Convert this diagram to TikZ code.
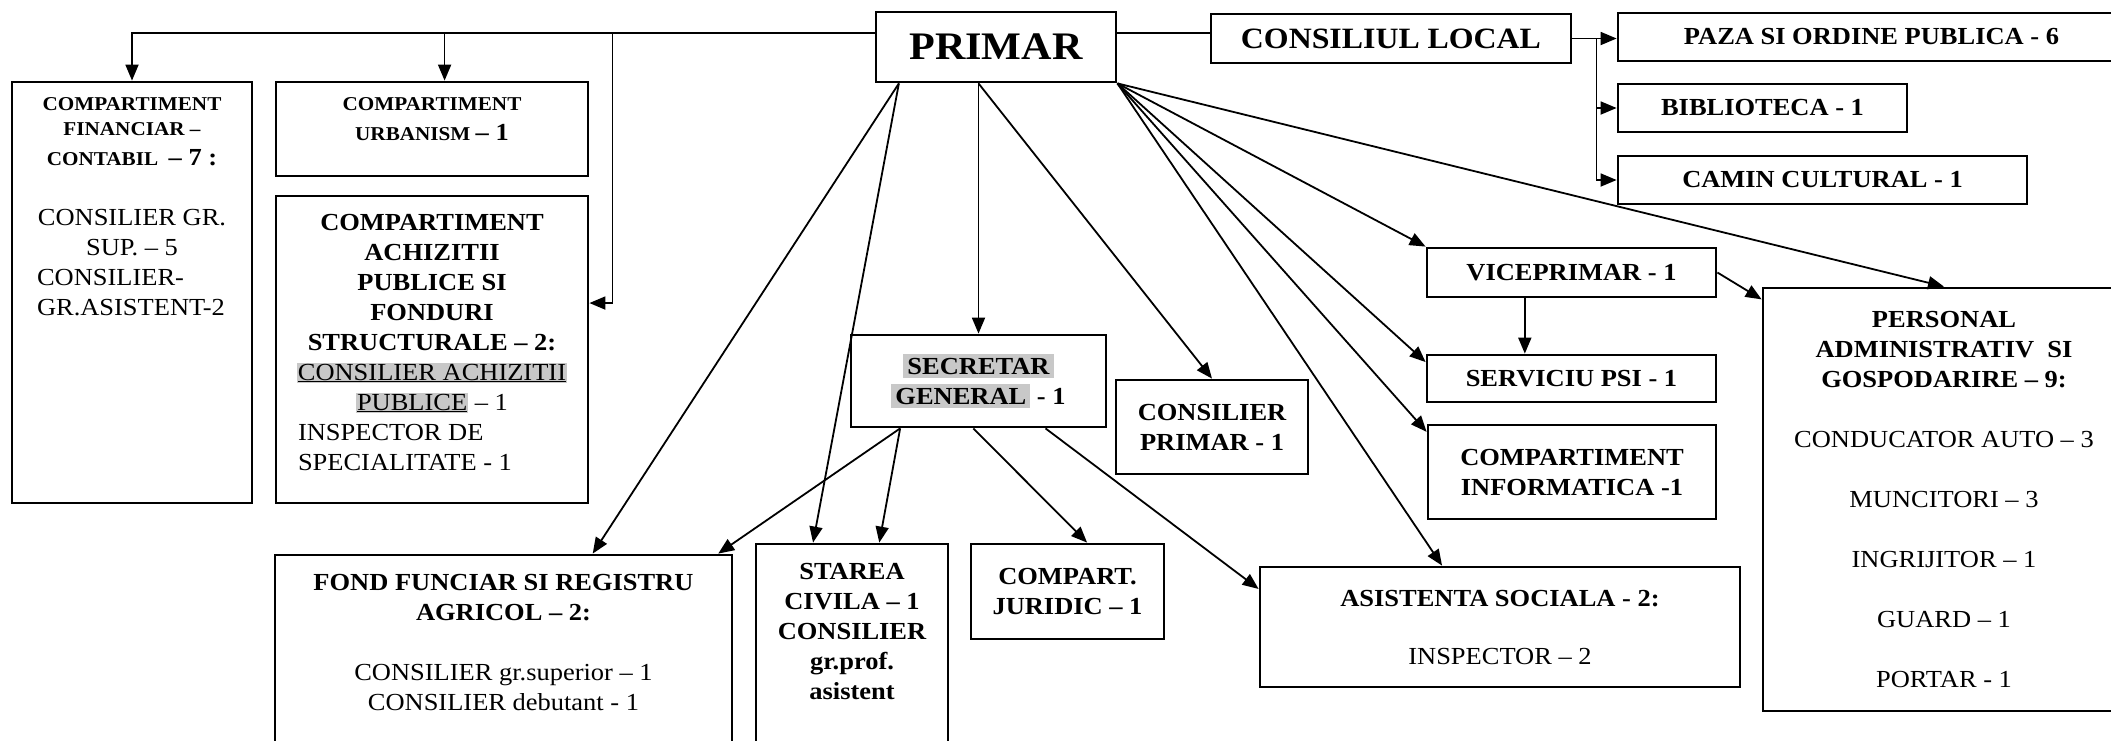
\documentclass[tikz,border=0pt]{standalone}
\usepackage{fontspec}
\setmainfont[FakeStretch=1.08]{Liberation Serif}
\usetikzlibrary{
  arrows.meta,
  positioning,
  calc,
}
\tikzset{
  >={Triangle[length=16pt,width=13pt]},
  box/.style={draw, line width=2.8pt, inner sep=0pt, align=center, font=\bodyfont},
  boxsize/.style 2 args={minimum width=#1pt, minimum height=#2pt},
  txt/.style={inner sep=0pt, align=center, font=\bodyfont},
  link/.style={line width=1.8pt},
}
\definecolor{hl_gray}{RGB}{200,200,200}
\newcommand{\bodyfont}{\fontsize{24.5}{30}\selectfont}
\newcommand{\headfont}{\fontsize{24.5}{30}\selectfont\bfseries}
\newcommand{\smallhead}{\fontsize{19.6}{25}\selectfont\bfseries}
\newcommand{\grayhl}[2][1pt]{{\setlength{\fboxsep}{#1}\colorbox{hl_gray}{#2}}}

\begin{document}
\begin{tikzpicture}[x=1pt, y=-1pt]
    \path[use as bounding box, fill=white] (0,0) rectangle (2111,740);

    % top row
    \node[box, boxsize={240}{70}, font=\fontsize{39}{45}\selectfont\bfseries] (primar) at (996,47) {PRIMAR};
    \node[box, boxsize={360}{49}, font=\fontsize{29.5}{35}\selectfont\bfseries] (cl) at (1391,38.5) {CONSILIUL LOCAL};
    \node[box, boxsize={507}{48}, font=\headfont] (paza) at (1871.5,37) {PAZA SI ORDINE PUBLICA - 6};
    \node[box, boxsize={289}{48}, font=\headfont] (biblio) at (1762.5,108) {BIBLIOTECA - 1};
    \node[box, boxsize={409}{48}, font=\headfont] (camin) at (1822.5,180) {CAMIN CULTURAL - 1};

    % left column, text hangs from the top of the box
    \node[box, boxsize={240}{421}] (fin) at (132,292.5) {};
    \node[txt, below=17pt of fin.north] (fin-t) {%
      \smallhead COMPARTIMENT\\[-5pt]
      \smallhead FINANCIAR --\\
      \smallhead CONTABIL\ \ {\headfont -- 7 :}\\[30pt]
      CONSILIER GR.\\
      SUP. -- 5\\
      \makebox[190pt][l]{CONSILIER-}\\
      \makebox[190pt][l]{GR.ASISTENT-2}};
    \node[box, boxsize={312}{94}] (urb) at (432,129) {};
    \node[txt, below=17pt of urb.north] (urb-t) {%
      \smallhead COMPARTIMENT\\
      \smallhead URBANISM {\headfont -- 1}};
    \node[box, boxsize={312}{307}] (ach) at (432,349.5) {};
    \node[txt, below=19pt of ach.north] (ach-t) {%
      \bfseries COMPARTIMENT\\
      \bfseries ACHIZITII\\
      \bfseries PUBLICE SI\\
      \bfseries FONDURI\\
      \bfseries STRUCTURALE -- 2:\\
      \grayhl{\underline{CONSILIER ACHIZITII}}\\
      \grayhl{\underline{PUBLICE}} -- 1\\
      \makebox[268pt][l]{INSPECTOR DE}\\
      \makebox[268pt][l]{SPECIALITATE - 1}};

    % middle
    \node[box, boxsize={255}{92}, font=\headfont] (secr) at (978.5,381) {\grayhl[4pt]{SECRETAR}\\\grayhl[4pt]{GENERAL} - 1};
    \node[box, boxsize={192}{94}, font=\headfont] (cpr) at (1212,427) {CONSILIER\\PRIMAR - 1};
    \node[box, boxsize={193}{95}, font=\headfont] (jur) at (1067.5,591.5) {COMPART.\\JURIDIC -- 1};
    \node[box, boxsize={480}{120}] (asist) at (1500,627) {\bfseries ASISTENTA SOCIALA - 2:\\[28pt] INSPECTOR -- 2};

    % bottom row, boxes run off the page
    \node[box, boxsize={457}{210}] (fond) at (503.5,660) {};
    \node[txt, below=20pt of fond.north] (fond-t) {%
      \bfseries FOND FUNCIAR SI REGISTRU\\
      \bfseries AGRICOL -- 2:\\[30pt]
      CONSILIER gr.superior -- 1\\
      CONSILIER debutant - 1};
    \node[box, boxsize={192}{221}] (starea) at (852,654.5) {};
    \node[txt, below=20pt of starea.north, font=\headfont] (starea-t) {%
      STAREA\\ CIVILA -- 1\\ CONSILIER\\ gr.prof.\\ asistent};

    % right side
    \node[box, boxsize={289}{49}, font=\headfont] (vice) at (1571.5,272.5) {VICEPRIMAR - 1};
    \node[box, boxsize={289}{47}, font=\headfont] (psi) at (1571.5,378.5) {SERVICIU PSI - 1};
    \node[box, boxsize={288}{94}, font=\headfont] (info) at (1572,472) {COMPARTIMENT\\INFORMATICA -1};
    \node[box, boxsize={362}{423}] (pers) at (1944,499.5) {%
      \bfseries PERSONAL\\
      \bfseries ADMINISTRATIV\ \ SI\\
      \bfseries GOSPODARIRE -- 9:\\[30pt]
      CONDUCATOR AUTO -- 3\\[30pt]
      MUNCITORI -- 3\\[30pt]
      INGRIJITOR -- 1\\[30pt]
      GUARD -- 1\\[30pt]
      PORTAR - 1};

    % bus to the left
    \coordinate (tapL) at ($(primar.north west)!0.31!(primar.south west)$);
    \coordinate (tapR) at ($(primar.north east)!0.31!(primar.south east)$);
    \coordinate (urbIn) at ($(urb.north west)!0.54!(urb.north east)$);
    \coordinate (achIn) at ($(ach.north east)!0.35!(ach.south east)$);
    \coordinate (achBend) at ($(achIn)+(23,0)$);
    \draw[link, ->] (tapL) -| (fin.north);
    \draw[link, ->] (tapL -| urbIn) -- (urbIn);
    \draw[link, ->] (tapL -| achBend) -- (achBend) -- (achIn);

    % consiliul local and its branches
    \draw[link] (tapR) -- (tapR -| cl.west);
    \coordinate (clFork) at ($(cl.east)+(24,0)$);
    \draw[link, ->] (cl.east) -- (cl.east -| paza.west);
    \draw[link, ->] (clFork) |- (biblio.west);
    \draw[link, ->] (clFork) |- (camin.west);

    % from the primar
    \coordinate (pA) at ($(primar.south west)!0.1!(primar.south east)$);
    \coordinate (pB) at (secr.north |- primar.south);
    \draw[link, ->] (pA) -- ($(fond.north west)!0.694!(fond.north east)$);
    \draw[link, ->] (pA) -- ($(starea.north west)!0.3!(starea.north east)$);
    \draw[link, ->] (pB) -- (secr.north);
    \draw[link, ->] (pB) -- (cpr.north);
    \draw[link, ->] (primar.south east) -- (pers.north);
    \draw[link, ->] (primar.south east) -- (vice.north west);
    \draw[link, ->] (primar.south east) -- ($(psi.north west)!0.17!(psi.south west)$);
    \draw[link, ->] (primar.south east) -- ($(info.north west)!0.085!(info.south west)$);
    \draw[link, ->] (primar.south east) -- ($(asist.north west)!0.38!(asist.north east)$);

    % viceprimar
    \coordinate (viceOut) at ($(vice.south west)!0.34!(vice.south east)$);
    \draw[link, ->] (viceOut) -- (viceOut |- psi.north);
    \draw[link, ->] (vice.east) -- ($(pers.north west)!0.03!(pers.south west)$);

    % from the secretar
    \coordinate (sA) at ($(secr.south west)!0.196!(secr.south east)$);
    \draw[link, ->] (sA) -- ($(fond.north west)!0.967!(fond.north east)$);
    \draw[link, ->] (sA) -- ($(starea.north west)!0.64!(starea.north east)$);
    \draw[link, ->] ($(secr.south west)!0.48!(secr.south east)$) -- ($(jur.north west)!0.6!(jur.north east)$);
    \draw[link, ->] ($(secr.south west)!0.76!(secr.south east)$) -- ($(asist.north west)!0.19!(asist.south west)$);
\end{tikzpicture}
\end{document}
